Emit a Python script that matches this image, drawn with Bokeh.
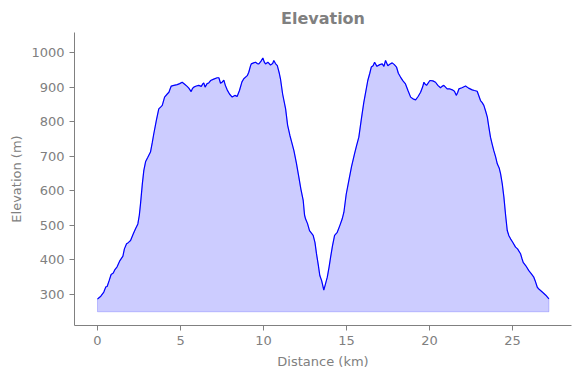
from bokeh.plotting import figure
from bokeh.models import Range1d, FixedTicker
from bokeh.embed import file_html
from bokeh.resources import INLINE

distance_km = [
    0.00, 0.20, 0.38, 0.50, 0.58, 0.70, 0.82, 0.95, 1.05, 1.18, 1.35, 1.53, 1.62, 1.75, 1.85, 1.99,
    2.15, 2.29, 2.43, 2.52, 2.59, 2.70, 2.79, 2.90, 3.03, 3.19, 3.30, 3.39, 3.55, 3.69, 3.80, 3.90,
    4.04, 4.20, 4.30, 4.44, 4.60, 4.80, 4.95, 5.10, 5.25, 5.40, 5.50, 5.64, 5.72, 5.80, 5.95, 6.10,
    6.25, 6.35, 6.40, 6.48, 6.60, 6.70, 6.81, 7.00, 7.21, 7.31, 7.41, 7.50, 7.61, 7.70, 7.81, 7.95,
    8.11, 8.27, 8.41, 8.55, 8.70, 8.81, 9.02, 9.11, 9.22, 9.26, 9.40, 9.52, 9.62, 9.72, 9.85, 9.96,
    10.05, 10.12, 10.26, 10.42, 10.55, 10.62, 10.72, 10.83, 10.95, 11.02, 11.15, 11.33, 11.45, 11.59,
    11.70, 11.83, 11.98, 12.13, 12.25, 12.39, 12.47, 12.53, 12.65, 12.77, 12.99, 13.10, 13.19, 13.30,
    13.39, 13.50, 13.63, 13.70, 13.84, 13.95, 14.04, 14.15, 14.28, 14.44, 14.60, 14.74, 14.84, 14.98,
    15.14, 15.30, 15.48, 15.60, 15.74, 15.90, 16.04, 16.15, 16.28, 16.40, 16.49, 16.60, 16.69, 16.83,
    17.00, 17.15, 17.25, 17.35, 17.49, 17.60, 17.75, 17.88, 18.01, 18.12, 18.25, 18.40, 18.55, 18.70,
    18.86, 19.00, 19.16, 19.30, 19.46, 19.58, 19.66, 19.74, 19.82, 20.02, 20.20, 20.36, 20.50, 20.66,
    20.75, 20.86, 21.06, 21.20, 21.37, 21.50, 21.61, 21.70, 21.77, 21.95, 22.17, 22.35, 22.57, 22.70,
    22.87, 23.07, 23.17, 23.27, 23.38, 23.48, 23.57, 23.67, 23.77, 23.87, 23.98, 24.08, 24.20, 24.28,
    24.38, 24.48, 24.58, 24.68, 24.78, 24.88, 25.00, 25.18, 25.30, 25.48, 25.56, 25.64, 25.80, 25.98,
    26.10, 26.28, 26.36, 26.49, 26.60, 26.79, 27.00, 27.19,
]
elevation_m = [
    287, 295, 307, 322, 323, 340, 358, 362, 372, 380, 398, 411, 432, 447, 450, 456,
    475, 490, 504, 530, 562, 620, 659, 685, 697, 712, 740, 765, 805, 837, 842, 847,
    871, 880, 885, 903, 905, 907, 910, 914, 908, 902, 897, 887, 896, 900, 903, 905,
    902, 910, 912, 900, 910, 912, 919, 923, 927, 927, 911, 914, 920, 905, 892, 880,
    871, 876, 873, 890, 915, 924, 933, 943, 962, 967, 970, 972, 968, 967, 975, 984,
    972, 967, 972, 964, 968, 977, 968, 962, 940, 924, 880, 837, 790, 760,
    740, 716, 680, 639, 605, 572, 530, 519, 505, 485, 471, 450, 418, 385,
    355, 340, 313, 325, 350, 380, 408, 440, 471, 480, 500, 519, 538, 590,
    630, 670, 707, 730, 755, 810, 856, 885, 919, 940, 958, 962, 972, 960,
    965, 967, 960, 977, 962, 966, 970, 965, 958, 940, 929, 918, 909, 890,
    871, 866, 863, 872, 885, 900, 914, 908, 905, 919, 918, 914, 905, 898,
    902, 905, 895, 895, 892, 888, 876, 885, 895, 898, 903, 897, 892, 890,
    888, 861, 855, 847, 830, 813, 785, 755, 735, 716, 698, 678, 665, 649,
    620, 581, 530, 485, 470, 461, 452, 437, 432, 418, 405, 393, 383, 369,
    362, 350, 340, 321, 315, 307, 298, 287,
]
fill_base_m = 250
x_ticks = [0, 5, 10, 15, 20, 25]
y_ticks = [300, 400, 500, 600, 700, 800, 900, 1000]

GRAY = "#808080"
FONT = "DejaVu Sans"

p = figure(width=580, height=378, output_backend="svg", toolbar_location=None,
           title="Elevation",
           x_range=Range1d(-1.386, 28.55), y_range=Range1d(210.3, 1057.9),
           min_border_left=74, min_border_right=9, min_border_top=32, min_border_bottom=53)

p.title.align = "center"
p.title.text_color = GRAY
p.title.text_font = FONT
p.title.text_font_size = "16px"
p.title.text_font_style = "bold"

p.outline_line_color = None
p.background_fill_color = "white"
p.border_fill_color = "white"
p.xgrid.visible = False
p.ygrid.visible = False

for ax in (p.xaxis[0], p.yaxis[0]):
    ax.axis_line_color = GRAY
    ax.axis_line_width = 1
    ax.major_tick_line_color = GRAY
    ax.major_tick_in = 0
    ax.major_tick_out = 5
    ax.minor_tick_line_color = None
    ax.major_label_text_color = GRAY
    ax.major_label_text_font = FONT
    ax.major_label_text_font_size = "13px"
    ax.axis_label_text_color = GRAY
    ax.axis_label_text_font = FONT
    ax.axis_label_text_font_size = "13px"
    ax.axis_label_text_font_style = "normal"
    ax.major_label_standoff = 5

p.xaxis.axis_label = "Distance (km)"
p.yaxis.axis_label = "Elevation (m)"
p.xaxis.ticker = FixedTicker(ticks=x_ticks)
p.yaxis.ticker = FixedTicker(ticks=y_ticks)
p.xaxis.axis_label_standoff = 6
p.yaxis.axis_label_standoff = 4

patch_x = distance_km + [distance_km[-1], distance_km[0]]
patch_y = elevation_m + [fill_base_m, fill_base_m]
p.patch(patch_x, patch_y, fill_color="blue", fill_alpha=0.2,
        line_color="blue", line_alpha=0.2, line_width=1)
p.line(distance_km, elevation_m, line_color="blue", line_width=1.2)

open("out.html", "w").write(file_html(p, INLINE))
